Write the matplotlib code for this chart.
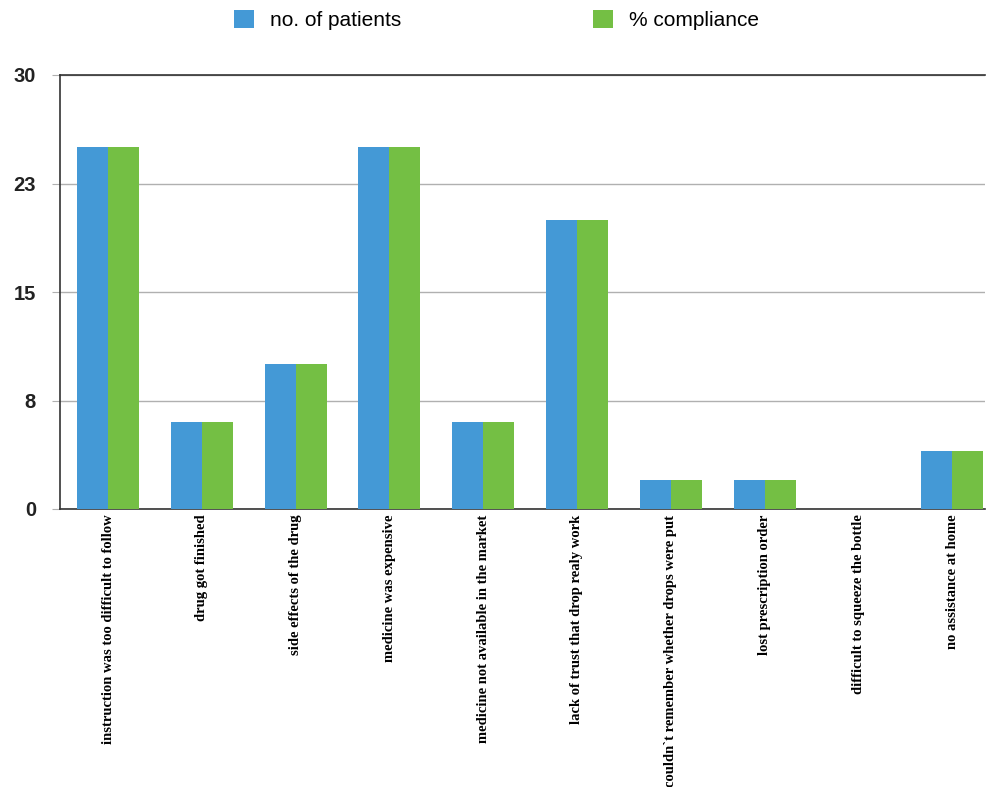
import matplotlib
matplotlib.use("Agg")
import matplotlib.pyplot as plt
import numpy as np
from matplotlib.patches import Patch

categories = [
    "instruction was too difficult to follow",
    "drug got finished",
    "side effects of the drug",
    "medicine was expensive",
    "medicine not available in the market",
    "lack of trust that drop realy work",
    "couldn`t remember whether drops were put",
    "lost prescription order",
    "difficult to squeeze the bottle",
    "no assistance at home",
]
patients = [25, 6, 10, 25, 6, 20, 2, 2, 0, 4]
compliance = [25, 6, 10, 25, 6, 20, 2, 2, 0, 4]
series_names = ["no. of patients", "% compliance"]
yticks = [0, 7.5, 15, 22.5, 30]
ytick_labels = ["0", "8", "15", "23", "30"]

blue = "#4499d6"
green = "#74bf44"

fig = plt.figure(figsize=(9.86, 7.87), dpi=100)
ax = fig.add_axes([60/986, 1-509/787, 925/986, 434/787])

x = np.arange(len(categories))
w = 0.33
ax.bar(x - w/2, patients, width=w, color=blue, zorder=3)
ax.bar(x + w/2, compliance, width=w, color=green, zorder=3)

ax.set_xlim(-0.512, 9.35)
ax.set_ylim(0, 30)
ax.set_yticks(yticks)
ax.set_yticklabels(ytick_labels, fontsize=14.5, family="Liberation Sans", fontweight="bold", color="#222222")
ax.yaxis.grid(True, color="#b0b0b0", linewidth=1, zorder=0)
ax.tick_params(axis="y", length=5.8, color="#b0b0b0", pad=11.5)
ax.set_xticks(x)
ax.set_xticklabels(categories, rotation=90, family="Liberation Serif", fontweight="bold",
                   fontsize=10.5, va="top", ha="center")
ax.tick_params(axis="x", length=0, pad=4)
for s in ["left", "bottom", "top"]:
    ax.spines[s].set_color("#333333")
    ax.spines[s].set_linewidth(1.2)
ax.spines["right"].set_visible(False)

handles = [Patch(facecolor=blue), Patch(facecolor=green)]
fig.legend(handles, series_names, loc="upper left", bbox_to_anchor=(234/986, 1 - 10/787), ncol=2,
           frameon=False, columnspacing=9.2, handlelength=0.96, handleheight=0.96,
           handletextpad=0.77, borderpad=0, borderaxespad=0,
           prop={"family": "Liberation Sans", "size": 15})

fig.savefig("out.png", dpi=100)
